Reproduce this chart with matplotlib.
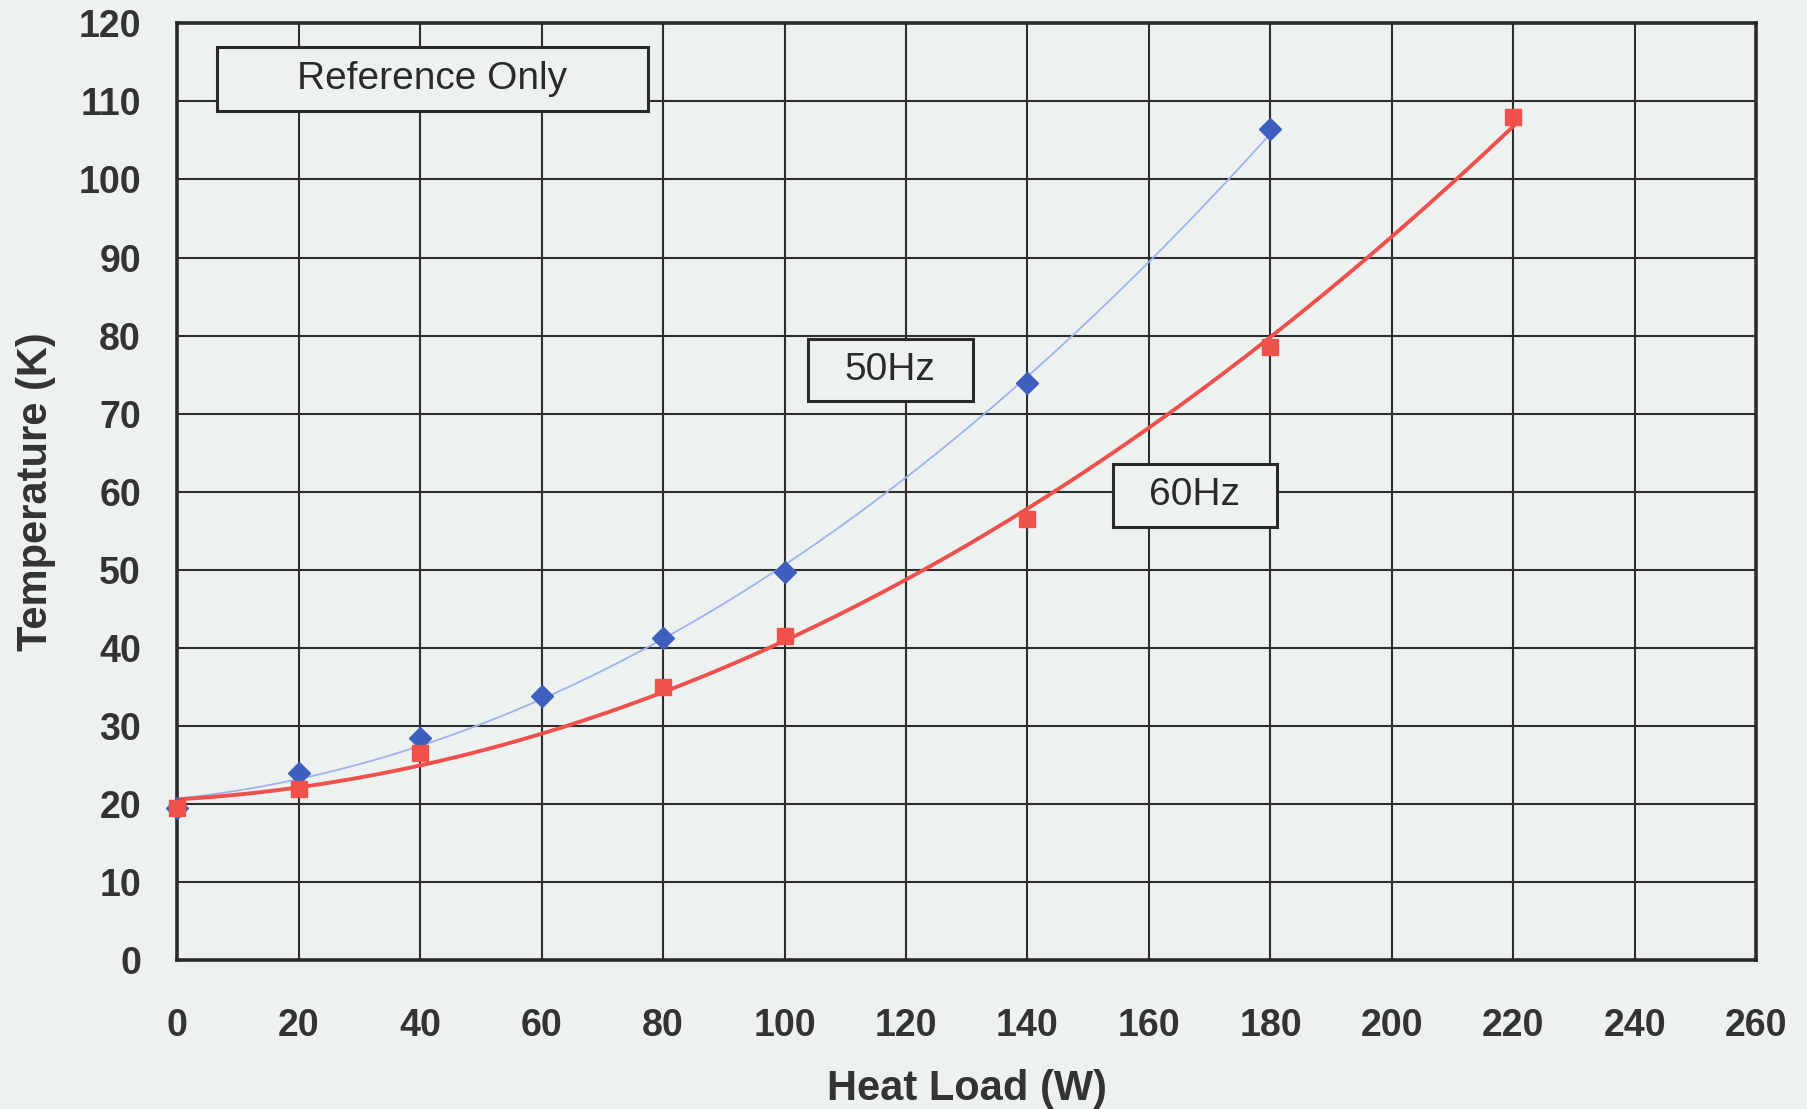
"""Cooler load curve: cold-head temperature vs heat load at 50 Hz and 60 Hz."""
import numpy as np
import matplotlib
matplotlib.use("Agg")
import matplotlib.pyplot as plt
from matplotlib.patches import Rectangle

# measured points
load_50hz = [0, 20, 40, 60, 80, 100, 140, 180]
temp_50hz = [19.5, 24.0, 28.5, 33.8, 41.3, 49.7, 74.0, 106.5]

load_60hz = [0, 20, 40, 80, 100, 140, 180, 220]
temp_60hz = [19.5, 22.0, 26.5, 35.0, 41.5, 56.5, 78.5, 108.0]

x_ticks = list(range(0, 261, 20))
y_ticks = list(range(0, 121, 10))

BG = "#edf2f0"
GRID = "#2e2e2e"
TICK_FONT = "Liberation Sans"


def trend(x, y, x_end):
    # second-order trendline through the measured points
    coef = np.polyfit(x, y, 2)
    xs = np.linspace(0, x_end, 200)
    return xs, np.polyval(coef, xs)


def label_box(ax, x0, y0, x1, y1, text, size):
    ax.add_patch(Rectangle((x0, y0), x1 - x0, y1 - y0, facecolor=BG,
                           edgecolor="#2a2a2a", lw=2.2, zorder=5))
    ax.text((x0 + x1) / 2, (y0 + y1) / 2, text, ha="center", va="center",
            fontsize=size, family=TICK_FONT, color="#2a2a2a", zorder=6)


def main():
    fig = plt.figure(figsize=(18.07, 11.09), dpi=100, facecolor=BG)
    ax = fig.add_axes([0.098, 0.134, 0.874, 0.845], facecolor=BG)

    xs, ys = trend(load_50hz, temp_50hz, max(load_50hz))
    ax.plot(xs, ys, color="#9db2ee", lw=1.3, zorder=3)
    xs, ys = trend(load_60hz, temp_60hz, max(load_60hz))
    ax.plot(xs, ys, color="#f0504c", lw=2.8, zorder=3)

    ax.plot(load_50hz, temp_50hz, ls="none", marker="D", ms=11,
            color="#3f5fbf", zorder=4, clip_on=False)
    ax.plot(load_60hz, temp_60hz, ls="none", marker="s", ms=12,
            color="#f2504a", zorder=4.5, clip_on=False)

    ax.set_xlim(0, 260)
    ax.set_ylim(0, 120)
    ax.set_xticks(x_ticks)
    ax.set_yticks(y_ticks)
    ax.grid(True, color=GRID, lw=1.5)
    ax.set_axisbelow(True)
    ax.tick_params(length=0, colors="#333333")
    ax.tick_params(axis="x", pad=34)
    ax.tick_params(axis="y", pad=26)
    for lab in ax.get_xticklabels() + ax.get_yticklabels():
        lab.set_fontsize(27)
        lab.set_fontweight("bold")
        lab.set_family(TICK_FONT)
    for sp in ax.spines.values():
        sp.set_color("#2a2a2a")
        sp.set_linewidth(2.6)

    ax.set_xlabel("Heat Load (W)", fontsize=30, fontweight="bold",
                  family=TICK_FONT, color="#333333", labelpad=18)
    ax.set_ylabel("Temperature (K)", fontsize=30, fontweight="bold",
                  family=TICK_FONT, color="#333333", labelpad=16)

    label_box(ax, 6.5, 108.8, 77.6, 116.9, "Reference Only", 28)
    label_box(ax, 103.8, 71.6, 131.0, 79.6, "50Hz", 28)
    label_box(ax, 154.0, 55.5, 181.0, 63.6, "60Hz", 28)

    fig.savefig("out.png", dpi=100, facecolor=BG)


if __name__ == "__main__":
    main()
